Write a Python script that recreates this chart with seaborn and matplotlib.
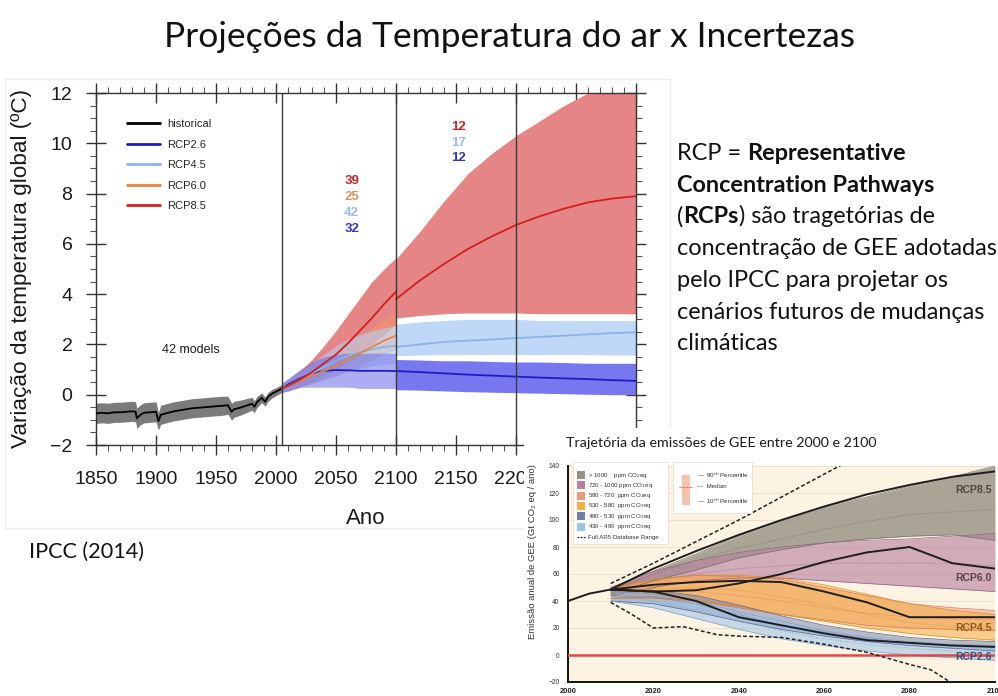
import numpy as np
import pandas as pd
import matplotlib
matplotlib.use("Agg")
import matplotlib.pyplot as plt
import seaborn as sns
from matplotlib.patches import Rectangle
from matplotlib.lines import Line2D
from matplotlib.ticker import MultipleLocator

# ------------------------------------------------------------------
# Temperature projections (CMIP5, ºC relative to 1986-2005)
# ------------------------------------------------------------------
hist_years = [1850, 1855, 1860, 1865, 1870, 1875, 1880, 1883, 1884, 1887, 1890,
              1895, 1900, 1902, 1904, 1910, 1915, 1920, 1925, 1930, 1935, 1940,
              1945, 1950, 1955, 1960, 1963, 1965, 1970, 1975, 1980, 1982, 1984,
              1988, 1991, 1993, 1997, 2000, 2005]
hist_mean = [-0.74, -0.72, -0.74, -0.70, -0.70, -0.68, -0.66, -0.68, -0.94, -0.80,
             -0.72, -0.70, -0.68, -1.05, -0.80, -0.72, -0.66, -0.62, -0.58, -0.54,
             -0.52, -0.50, -0.48, -0.46, -0.44, -0.42, -0.68, -0.58, -0.52, -0.44,
             -0.36, -0.48, -0.30, -0.12, -0.28, -0.10, 0.05, 0.12, 0.25]
hist_lo = [-1.14, -1.12, -1.14, -1.10, -1.10, -1.08, -1.06, -1.08, -1.34, -1.20,
           -1.12, -1.10, -1.08, -1.40, -1.18, -1.10, -1.04, -1.00, -0.96, -0.92,
           -0.90, -0.88, -0.86, -0.84, -0.82, -0.78, -1.02, -0.90, -0.82, -0.72,
           -0.62, -0.72, -0.52, -0.32, -0.46, -0.28, -0.12, -0.04, 0.10]
hist_hi = [-0.34, -0.32, -0.34, -0.30, -0.30, -0.28, -0.26, -0.28, -0.54, -0.40,
           -0.32, -0.30, -0.28, -0.70, -0.42, -0.34, -0.28, -0.24, -0.20, -0.16,
           -0.14, -0.12, -0.10, -0.08, -0.06, -0.06, -0.34, -0.26, -0.22, -0.16,
           -0.10, -0.24, -0.08, 0.08, -0.10, 0.08, 0.22, 0.28, 0.40]

# 2006-2100 (all models)
yrs_21c = [2005, 2010, 2020, 2030, 2040, 2050, 2060, 2070, 2080, 2090, 2100]
rcp85_mean_a = [0.25, 0.35, 0.60, 0.90, 1.25, 1.60, 2.05, 2.55, 3.05, 3.60, 4.10]
rcp85_lo_a = [0.10, 0.15, 0.30, 0.50, 0.75, 1.00, 1.30, 1.65, 2.00, 2.40, 2.80]
rcp85_hi_a = [0.45, 0.60, 0.95, 1.40, 1.95, 2.55, 3.20, 3.85, 4.50, 5.00, 5.45]
rcp60_mean_a = [0.25, 0.33, 0.55, 0.75, 0.95, 1.15, 1.40, 1.65, 1.90, 2.15, 2.35]
rcp60_lo_a = [0.10, 0.15, 0.30, 0.45, 0.60, 0.75, 0.95, 1.15, 1.40, 1.60, 1.80]
rcp60_hi_a = [0.45, 0.55, 0.85, 1.10, 1.35, 1.60, 1.95, 2.30, 2.65, 3.00, 3.30]
rcp45_mean_a = [0.25, 0.35, 0.60, 0.85, 1.10, 1.35, 1.55, 1.70, 1.80, 1.90, 1.95]
rcp45_lo_a = [0.10, 0.15, 0.30, 0.45, 0.60, 0.80, 0.95, 1.05, 1.15, 1.20, 1.25]
rcp45_hi_a = [0.45, 0.60, 0.90, 1.25, 1.60, 1.95, 2.20, 2.40, 2.55, 2.65, 2.75]
rcp26_mean_a = [0.25, 0.40, 0.65, 0.85, 0.95, 0.98, 0.97, 0.95, 0.95, 0.95, 0.94]
rcp26_lo_a = [0.10, 0.15, 0.30, 0.30, 0.30, 0.30, 0.30, 0.25, 0.25, 0.25, 0.25]
rcp26_hi_a = [0.45, 0.65, 1.00, 1.30, 1.50, 1.60, 1.65, 1.65, 1.65, 1.65, 1.65]

# 2101-2300 (extended runs)
yrs_ext = [2100, 2120, 2140, 2160, 2180, 2200, 2220, 2240, 2260, 2280, 2300]
rcp85_mean_b = [3.80, 4.55, 5.20, 5.80, 6.30, 6.75, 7.10, 7.40, 7.65, 7.80, 7.90]
rcp85_lo_b = [2.80, 3.00, 3.10, 3.15, 3.20, 3.20, 3.20, 3.15, 3.10, 3.05, 3.00]
rcp85_hi_b = [5.40, 6.50, 7.70, 8.80, 9.60, 10.30, 10.90, 11.50, 12.00, 12.40, 12.70]
rcp45_mean_b = [1.90, 2.00, 2.10, 2.15, 2.20, 2.25, 2.30, 2.35, 2.40, 2.45, 2.48]
rcp45_lo_b = [1.55, 1.58, 1.60, 1.60, 1.60, 1.60, 1.60, 1.60, 1.60, 1.58, 1.58]
rcp45_hi_b = [2.80, 2.90, 2.95, 3.00, 3.00, 3.00, 2.95, 2.95, 2.95, 2.95, 2.95]
rcp45_halo_lo = [1.35, 1.35, 1.38, 1.38, 1.38, 1.38, 1.38, 1.38, 1.38, 1.36, 1.36]
rcp45_halo_hi = [3.05, 3.15, 3.22, 3.25, 3.25, 3.25, 3.22, 3.22, 3.22, 3.22, 3.22]
rcp26_mean_b = [0.94, 0.90, 0.85, 0.80, 0.76, 0.72, 0.68, 0.65, 0.62, 0.58, 0.55]
rcp26_lo_b = [0.20, 0.18, 0.15, 0.12, 0.10, 0.08, 0.06, 0.04, 0.02, 0.00, 0.00]
rcp26_hi_b = [1.40, 1.38, 1.35, 1.35, 1.32, 1.30, 1.30, 1.28, 1.25, 1.25, 1.25]

# number of models per scenario
n_models_21c = {"RCP8.5": 39, "RCP6.0": 25, "RCP4.5": 42, "RCP2.6": 32}
n_models_ext = {"RCP8.5": 12, "RCP4.5": 17, "RCP2.6": 12}

# year axis: ticks every 50 years, labelled up to 2200
year_ticks = [1850, 1900, 1950, 2000, 2050, 2100, 2150, 2200, 2250, 2300]
year_labels = ["1850", "1900", "1950", "2000", "2050", "2100", "2150", "2200", "", ""]

# ------------------------------------------------------------------
# GHG emission pathways 2000-2100 (Gt CO2eq / yr)
# ------------------------------------------------------------------
em_hist_years = [2000, 2005, 2010]
em_hist = [40, 45.5, 48.5]
em_years = [2010, 2020, 2030, 2040, 2050, 2060, 2070, 2080, 2090, 2100]
em_rcp85 = [48.5, 64, 77, 89, 100, 110, 119, 126, 132, 136]
em_rcp60 = [48.5, 47, 48, 53, 60, 69, 76, 80, 68, 64]
em_rcp45 = [48.5, 52, 54, 55, 54, 47, 39, 28, 28, 28]
em_rcp26 = [48.5, 47, 40, 28, 22, 16, 11, 9, 7, 6]

cat_labels = ["> 1000    ppm CO$_2$eq", "720 - 1000 ppm CO$_2$eq", "580 - 720  ppm CO$_2$eq",
              "530 - 580  ppm CO$_2$eq", "480 - 530  ppm CO$_2$eq", "430 - 480  ppm CO$_2$eq"]
cat_lo = [[45, 55, 63, 72, 78, 83, 86, 88, 89, 85],
          [44, 50, 55, 57, 57, 55, 53, 51, 49, 47],
          [42, 43, 40, 35, 30, 26, 22, 20, 19, 18],
          [42, 42, 40, 36, 30, 25, 20, 16, 13, 11],
          [40, 38, 32, 25, 19, 14, 10, 7, 5, 3],
          [40, 35, 27, 19, 12, 7, 3, 0, -2, -4]]
cat_med = [[47, 60, 70, 79, 86, 93, 99, 104, 106, 108],
           [46, 55, 60, 64, 66, 68, 68, 68, 68, 66],
           [46, 48, 47, 44, 40, 35, 31, 28, 27, 26],
           [46, 49, 50, 48, 43, 37, 30, 24, 21, 19],
           [44, 43, 38, 30, 22, 17, 12, 9, 7, 6],
           [44, 40, 33, 25, 18, 12, 8, 5, 3, 2]]
cat_hi = [[50, 62, 75, 88, 100, 110, 117, 125, 132, 140],
          [50, 62, 70, 76, 80, 83, 85, 86, 88, 90],
          [50, 56, 59, 58, 56, 50, 44, 38, 35, 33],
          [49, 56, 59, 59, 57, 52, 45, 38, 33, 30],
          [48, 48, 44, 37, 29, 22, 17, 13, 11, 10],
          [47, 45, 40, 32, 25, 18, 13, 10, 8, 7]]
cat_colors = ["#969184", "#B8809F", "#EE9A7C", "#F4AE45", "#7080AC", "#9CC2E6"]
cat_edges = ["#7A766B", "#98607F", "#D9775A", "#D98E25", "#556590", "#7AA4CC"]
cat_alpha = [0.80, 0.62, 0.55, 0.55, 0.50, 0.55]

range_hi_years = [2010, 2020, 2030, 2040, 2050, 2060, 2066]
range_hi = [53, 68, 84, 100, 117, 134, 144]
range_lo_years = [2010, 2015, 2020, 2027, 2035, 2040, 2050, 2060, 2070, 2080, 2085, 2090]
range_lo = [39, 30, 20, 21, 15, 14, 13, 8, 2, -7, -11, -21]

W, H = 998, 696

sns.set_theme(style="ticks")
plt.rcParams["font.family"] = ["Liberation Sans", "DejaVu Sans"]
SLIDE_FONT = ["Lato", "DejaVu Sans"]


def box(x0, y0, x1, y1):
    return [x0 / W, 1 - y1 / H, (x1 - x0) / W, (y1 - y0) / H]


fig = plt.figure(figsize=(W / 100, H / 100), dpi=100)
fig.patch.set_facecolor("white")

# faint frame of the temperature panel
fig.add_artist(Rectangle((5 / W, 1 - 528 / H), 665 / W, 449 / H, transform=fig.transFigure,
                         fill=False, ec="#ECECEC", lw=1, zorder=-1))

# ================= temperature projections =================
ax = fig.add_axes(box(96, 93, 636, 445))
ax.set_zorder(0)
ax.set_facecolor("white")

C85, C60, C45, C26 = "#D21F1F", "#E8823C", "#8DB1E6", "#1C1CC4"

ax.fill_between(hist_years, hist_lo, hist_hi, color="#7B7B7B", lw=0, zorder=1)
# 2006-2100
ax.fill_between(yrs_21c, rcp85_lo_a, rcp85_hi_a, color="#E58585", lw=0, zorder=1)
ax.fill_between(yrs_21c, rcp60_lo_a, rcp60_hi_a, color="#F09A6A", alpha=0.55, lw=0, zorder=1)
ax.fill_between(yrs_21c, rcp45_lo_a, rcp45_hi_a, color="#B5CFF3", alpha=0.60, lw=0, zorder=1)
ax.fill_between(yrs_21c, rcp26_lo_a, rcp26_hi_a, color="#6A6AEA", alpha=0.55, lw=0, zorder=1)
# 2101-2300
ax.fill_between(yrs_ext, rcp85_lo_b, rcp85_hi_b, color="#E58585", lw=0, zorder=1)
ax.fill_between(yrs_ext, rcp45_halo_lo, rcp45_halo_hi, color="white", lw=0, zorder=1)
ax.fill_between(yrs_ext, rcp45_lo_b, rcp45_hi_b, color="#BFD8F8", lw=0, zorder=1)
ax.fill_between(yrs_ext, rcp26_lo_b, rcp26_hi_b, color="#7777F0", lw=0, zorder=1)

lw = 1.3
sns.lineplot(x=hist_years, y=hist_mean, color="black", lw=lw, ax=ax, zorder=3)
for yrs, vals, col in [(yrs_21c, rcp26_mean_a, C26), (yrs_21c, rcp45_mean_a, C45),
                       (yrs_21c, rcp60_mean_a, C60), (yrs_21c, rcp85_mean_a, C85),
                       (yrs_ext, rcp26_mean_b, C26), (yrs_ext, rcp45_mean_b, C45),
                       (yrs_ext, rcp85_mean_b, C85)]:
    sns.lineplot(x=yrs, y=vals, color=col, lw=lw, ax=ax, zorder=3)

for yr in (2005, 2100, 2200):
    ax.axvline(yr, color="#3A3A3A", lw=1.0, zorder=4)

ax.set_xlim(1850, 2300)
ax.set_ylim(-2, 12)
ax.set_xticks(year_ticks)
ax.set_xticklabels(year_labels)
ax.set_yticks(np.arange(-2, 13, 2))
ax.xaxis.set_minor_locator(MultipleLocator(10))
ax.yaxis.set_minor_locator(MultipleLocator(0.5))
ax.tick_params(which="major", direction="inout", length=14, width=1.0, color="#333333",
               top=True, right=True, labelsize=14, labelcolor="#1A1A1A")
ax.tick_params(which="minor", direction="out", length=4, width=0.8, color="#555555",
               top=True, right=True)
ax.tick_params(axis="x", which="major", pad=12)
ax.tick_params(axis="y", which="major", pad=10)
for s in ax.spines.values():
    s.set_color("#333333")
    s.set_linewidth(1.0)
ax.set_xlabel("Ano", fontsize=16, labelpad=14, color="#1A1A1A")
ax.set_ylabel("Variação da temperatura global (\u00baC)", fontsize=16.2, labelpad=13,
              color="#1A1A1A")

handles = [Line2D([], [], color=c, lw=2) for c in ("black", C26, C45, C60, C85)]
ax.legend(handles, ["historical", "RCP2.6", "RCP4.5", "RCP6.0", "RCP8.5"],
          loc="upper left", bbox_to_anchor=((127 - 96) / 540, (445 - 119) / 352),
          frameon=False, fontsize=8, handlelength=3.0, handletextpad=0.6,
          labelspacing=0.95, borderpad=0, borderaxespad=0)

num_cols = {"RCP8.5": "#C8282A", "RCP6.0": "#D9935A", "RCP4.5": "#9BB8E8", "RCP2.6": "#3434BE"}
for i, (k, n) in enumerate(n_models_21c.items()):
    ax.text(2063, 8.5 - 0.63 * i, str(n), color=num_cols[k], fontsize=9.5,
            fontweight="bold", ha="center", va="center", zorder=5)
for i, (k, n) in enumerate(n_models_ext.items()):
    ax.text(2152.5, 10.65 - 0.62 * i, str(n), color=num_cols[k], fontsize=9.5,
            fontweight="bold", ha="center", va="center", zorder=5)
ax.text(1929, 1.77, "42 models", fontsize=9, ha="center", va="center", color="#1A1A1A")

# ================= emissions panel =================
fig.add_artist(Rectangle((524 / W, 0), 1 - 524 / W, 1 - 428 / H, transform=fig.transFigure,
                         fc="white", ec="none", zorder=1))

ax2 = fig.add_axes(box(568, 466, 995, 682))
ax2.set_zorder(2)
ax2.set_facecolor("#FDF3E3")
ax2.set_xlim(2000, 2100)
ax2.set_ylim(-20, 140)
for y in range(-20, 141, 20):
    ax2.axhline(y, color="#EBDDC8", lw=0.6, zorder=0)

for lo, med, hi, fc, ec, al in zip(cat_lo, cat_med, cat_hi, cat_colors, cat_edges, cat_alpha):
    ax2.fill_between(em_years, lo, hi, color=fc, alpha=al, lw=0, zorder=1)
    sns.lineplot(x=em_years, y=lo, color=ec, lw=0.5, ax=ax2, zorder=2)
    sns.lineplot(x=em_years, y=hi, color=ec, lw=0.5, ax=ax2, zorder=2)
    sns.lineplot(x=em_years, y=med, color=ec, lw=0.6, ls=":", ax=ax2, zorder=2)

ax2.axhline(0, color="#E04848", lw=1.8, zorder=3)
sns.lineplot(x=range_hi_years, y=range_hi, color="#222222", lw=1.1, ls=(0, (2.5, 1.5)),
             ax=ax2, zorder=4)
sns.lineplot(x=range_lo_years, y=range_lo, color="#222222", lw=1.1, ls=(0, (2.5, 1.5)),
             ax=ax2, zorder=4)
sns.lineplot(x=em_hist_years, y=em_hist, color="#1E1E1E", lw=1.4, ax=ax2, zorder=5)
for vals in (em_rcp85, em_rcp60, em_rcp45, em_rcp26):
    sns.lineplot(x=em_years, y=vals, color="#1E1E1E", lw=1.4, ax=ax2, zorder=5)

ax2.set_xticks(range(2000, 2101, 20))
ax2.set_yticks(range(-20, 141, 20))
ax2.tick_params(axis="y", length=0, pad=6, labelsize=4.8, labelcolor="#333333")
ax2.tick_params(axis="x", length=0, pad=4, labelsize=5.5, labelcolor="#222222")
for t in ax2.get_xticklabels():
    t.set_fontweight("bold")
for side in ("top", "right"):
    ax2.spines[side].set_visible(False)
for side in ("left", "bottom"):
    ax2.spines[side].set_color("#111111")
    ax2.spines[side].set_linewidth(1.4)
ax2.set_ylabel("Emissão anual de GEE (Gt CO\u2082 eq / ano)", fontsize=6.8, color="#333333")
ax2.yaxis.set_label_coords(-0.073, 0.606)

rcp_tags = [("RCP8.5", 122, "#4A4640"), ("RCP6.0", 57, "#5B4250"),
            ("RCP4.5", 20, "#8A5A18"), ("RCP2.6", -1.5, "#3E4E70")]
for tag, yv, col in rcp_tags:
    ax2.text(2099.3, yv, tag, ha="right", va="center", fontsize=7.5, fontweight="bold",
             color=col, family=["Liberation Sans Narrow", "Liberation Sans"], zorder=6)

# legends of the emissions panel
fig.add_artist(Rectangle((573 / W, 1 - 544 / H), 95 / W, 82 / H, transform=fig.transFigure,
                         fc="white", ec="#E8E0D4", lw=0.6, zorder=3))
for i, (lab, fc, al) in enumerate(zip(cat_labels, cat_colors, cat_alpha)):
    yc = 475 + 10.3 * i
    fig.add_artist(Rectangle((577 / W, 1 - (yc + 4) / H), 8 / W, 8 / H,
                             transform=fig.transFigure, fc=fc, ec="none", zorder=4))
    fig.text(588 / W, 1 - yc / H, lab, fontsize=4.4, va="center", color="#333333", zorder=4)
fig.add_artist(Line2D([577 / W, 585 / W], [1 - 537 / H] * 2, transform=fig.transFigure,
                      color="#222222", lw=0.9, ls=(0, (1.5, 1)), zorder=4))
fig.text(588 / W, 1 - 537 / H, "Full AR5 Database Range", fontsize=4.4, va="center",
         color="#333333", zorder=4)

fig.add_artist(Rectangle((673 / W, 1 - 513 / H), 79 / W, 51 / H, transform=fig.transFigure,
                         fc="white", ec="#E8E0D4", lw=0.6, zorder=3))
fig.add_artist(Rectangle((682 / W, 1 - 505 / H), 8 / W, 30 / H, transform=fig.transFigure,
                         fc="#F6C2B0", ec="none", zorder=4))
fig.add_artist(Line2D([679 / W, 693 / W], [1 - 487 / H] * 2, transform=fig.transFigure,
                      color="#D9775A", lw=0.8, ls=(0, (2, 1)), zorder=4))
for yc, lab in [(475, "\u2014  90$^{th}$ Percentile"), (487, "\u2014  Median"),
                (501, "\u2014  10$^{th}$ Percentile")]:
    fig.text(697 / W, 1 - yc / H, lab, fontsize=4.4, va="center", color="#333333", zorder=4)

fig.text(566 / W, 1 - 443 / H, "Trajetória da emissões de GEE entre 2000 e 2100",
         fontsize=10.3, va="center", family=SLIDE_FONT, color="#1A1A1A", zorder=4)

# ================= slide texts =================
fig.text(509 / W, 1 - 37 / H, "Projeções da Temperatura do ar x Incertezas", fontsize=25.5,
         ha="center", va="center", family=SLIDE_FONT, color="#111111")
fig.text(29 / W, 1 - 552 / H, "IPCC (2014)", fontsize=15.6, va="center",
         family=SLIDE_FONT, color="#111111")

renderer = fig.canvas.get_renderer()


def text_width(s, weight, size):
    t = fig.text(0, 0, s, fontsize=size, fontweight=weight, family=SLIDE_FONT)
    w = t.get_window_extent(renderer).width
    t.remove()
    return w


BODY = 16.9
runs_by_line = [
    [("RCP = ", "normal"), ("Representative", "bold")],
    [("Concentration Pathways", "bold")],
    [("(", "normal"), ("RCPs", "bold"), (") são tragetórias de", "normal")],
    [("concentração de GEE adotadas", "normal")],
    [("pelo IPCC para projetar os", "normal")],
    [("cenários futuros de mudanças", "normal")],
    [("climáticas", "normal")],
]
for i, runs in enumerate(runs_by_line):
    x = 677.0
    yb = 160 + 31.7 * i
    for s, wt in runs:
        fig.text(x / W, 1 - yb / H, s, fontsize=BODY, fontweight=wt, va="baseline",
                 family=SLIDE_FONT, color="#111111")
        core = s.rstrip(" ")
        space = text_width("a a", wt, BODY) - text_width("aa", wt, BODY)
        x += text_width(core, wt, BODY) + space * (len(s) - len(core))

fig.savefig("out.png", dpi=100, facecolor="white")
